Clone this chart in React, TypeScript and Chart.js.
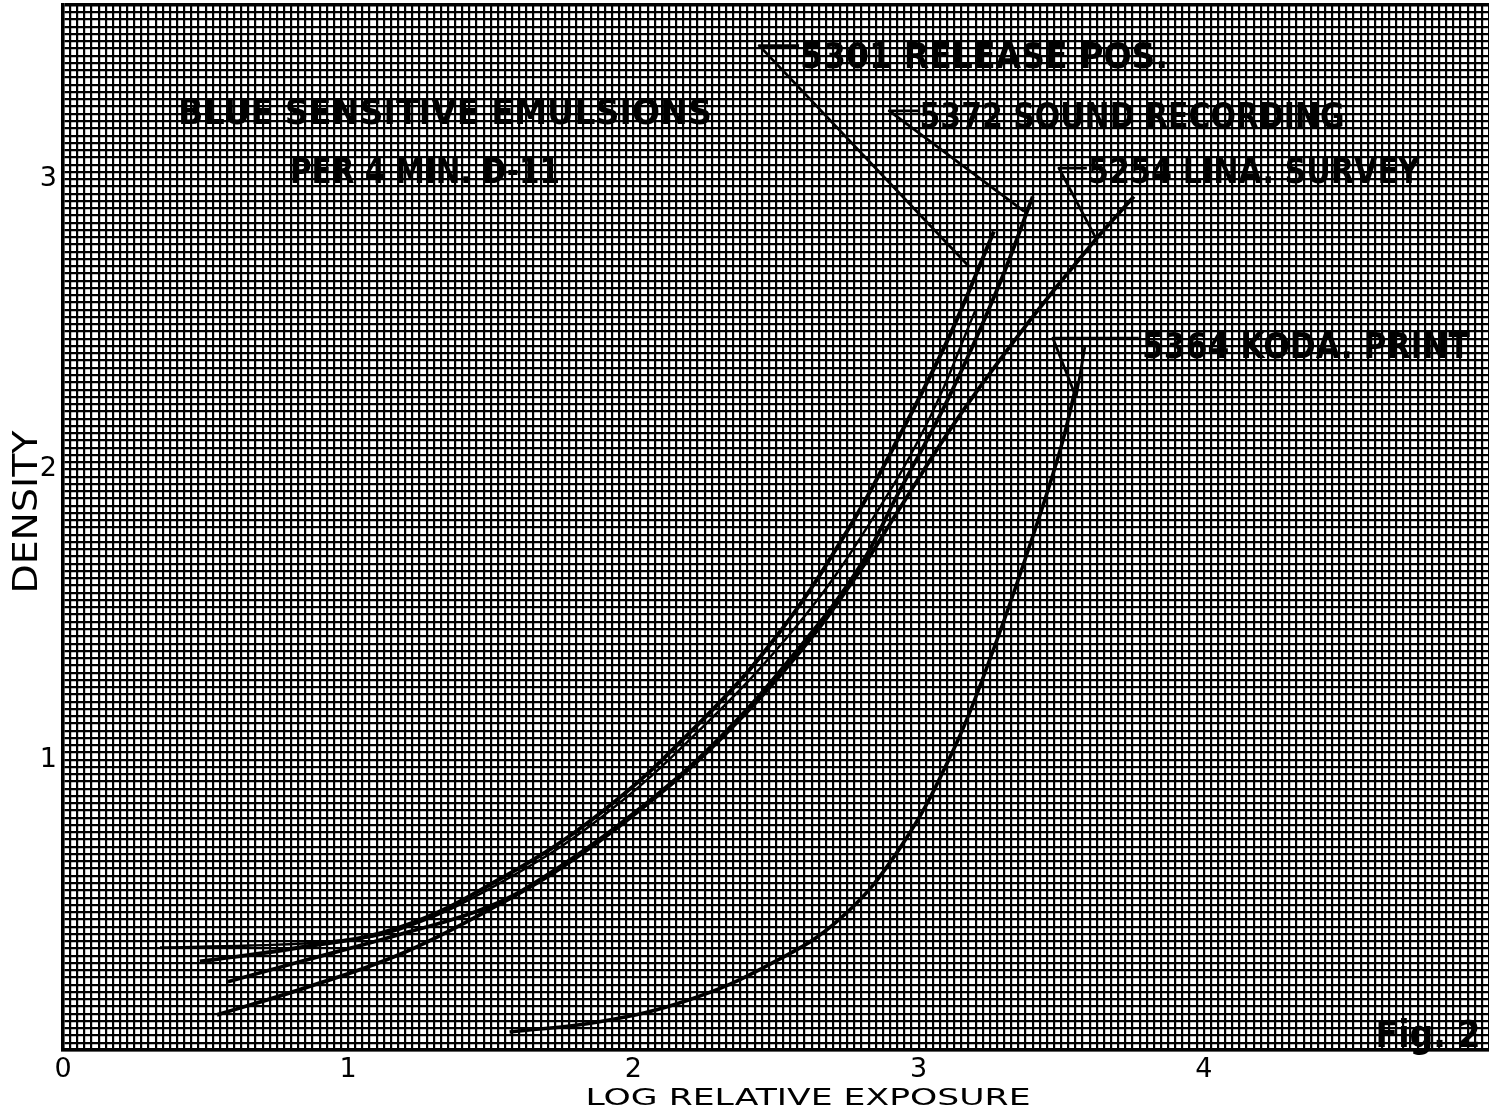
import { useEffect, useRef } from 'react';
import { Chart, registerables } from 'chart.js';
Chart.register(...registerables);

// ---- tick labels ----
const xTickLabels = ['0', '1', '2', '3', '4'];
const yTickLabels = ['1', '2', '3'];

// ---- series (log relative exposure, density) ----
const logE5301 = [0.48, 0.83, 1.18, 1.53, 1.88, 2.23, 2.51, 2.757, 2.93, 3.107, 3.264];
const dens5301 = [0.305, 0.353, 0.422, 0.588, 0.813, 1.125, 1.436, 1.8, 2.11, 2.457, 2.82];

const logEThin = [0.34, 0.655, 0.935, 1.18, 1.53, 1.88, 2.23, 2.58, 2.83, 3.04, 3.2];
const densThin = [0.353, 0.36, 0.374, 0.415, 0.574, 0.796, 1.1, 1.47, 1.817, 2.18, 2.55];

const logE5372 = [0.578, 0.83, 1.18, 1.496, 1.74, 2.02, 2.3, 2.58, 2.79, 2.93, 3.107, 3.28, 3.4];
const dens5372 = [0.235, 0.304, 0.398, 0.495, 0.63, 0.83, 1.073, 1.384, 1.66, 1.92, 2.25, 2.63, 2.94];

const logE5254 = [0.54, 0.83, 1.18, 1.496, 1.74, 2.02, 2.3, 2.58, 2.79, 2.93, 3.14, 3.387, 3.615, 3.755];
const dens5254 = [0.121, 0.208, 0.329, 0.484, 0.623, 0.824, 1.066, 1.367, 1.644, 1.86, 2.18, 2.509, 2.785, 2.94];

const logE5364 = [1.566, 1.881, 2.196, 2.476, 2.722, 2.932, 3.124, 3.264, 3.387, 3.499, 3.555];
const dens5364 = [0.062, 0.097, 0.173, 0.294, 0.45, 0.692, 1.038, 1.384, 1.73, 2.076, 2.301];

// ---- annotation texts ----
const titleLines = ['BLUE SENSITIVE EMULSIONS', 'PER 4 MIN. D-11'];
const curveLabels = ['5301 RELEASE POS.', '5372 SOUND RECORDING', '5254 LINA. SURVEY', '5364 KODA. PRINT'];
const figLabel = 'Fig. 2';
const xTitle = 'LOG RELATIVE EXPOSURE';
const yTitle = 'DENSITY';

const pts = (xs: number[], ys: number[]) => xs.map((x, i) => ({ x, y: ys[i] }));
const isInt = (v: number) => Math.abs(v - Math.round(v)) < 1e-6;

function drawFitted(ctx: CanvasRenderingContext2D, text: string, cx: number, baseY: number, width: number, font: string) {
  ctx.save();
  ctx.font = font;
  const w = ctx.measureText(text).width;
  ctx.translate(cx, baseY);
  ctx.scale(width / w, 1);
  ctx.textAlign = 'center';
  ctx.textBaseline = 'alphabetic';
  ctx.fillStyle = '#000';
  ctx.fillText(text, 0, 0);
  ctx.restore();
}

// leader lines in data units (log E, density)
const leaders: { x: number; y: number }[][] = [
  [{ x: 2.581, y: 3.46 }, { x: 2.441, y: 3.46 }, { x: 3.177, y: 2.699 }],
  [{ x: 3.002, y: 3.235 }, { x: 2.897, y: 3.235 }, { x: 3.37, y: 2.889 }],
  [{ x: 3.59, y: 3.038 }, { x: 3.492, y: 3.038 }, { x: 3.622, y: 2.796 }],
  [{ x: 3.772, y: 2.452 }, { x: 3.471, y: 2.452 }, { x: 3.552, y: 2.249 }],
  [{ x: 3.583, y: 2.422 }, { x: 3.552, y: 2.249 }],
];

const annotationPlugin = {
  id: 'paperAnnotations',
  afterDatasetsDraw(chart: any) {
    const ctx: CanvasRenderingContext2D = chart.ctx;
    const xs = chart.scales.x;
    const ys = chart.scales.y;
    ctx.save();
    ctx.strokeStyle = '#000';
    ctx.lineWidth = 2.8;
    ctx.lineJoin = 'round';
    for (const poly of leaders) {
      ctx.beginPath();
      poly.forEach((p, i) => {
        const px = xs.getPixelForValue(p.x);
        const py = ys.getPixelForValue(p.y);
        if (i === 0) ctx.moveTo(px, py);
        else ctx.lineTo(px, py);
      });
      ctx.stroke();
    }
    const bold = (s: number) => `bold ${s}px "DejaVu Sans"`;
    drawFitted(ctx, titleLines[0], 445, 124, 534, bold(36));
    drawFitted(ctx, titleLines[1], 425, 183, 270, bold(36));
    drawFitted(ctx, curveLabels[0], 984, 68, 368, bold(36));
    drawFitted(ctx, curveLabels[1], 1132, 128, 425, bold(36));
    drawFitted(ctx, curveLabels[2], 1254, 183, 332, bold(36));
    drawFitted(ctx, curveLabels[3], 1306, 358, 328, bold(36));
    drawFitted(ctx, figLabel, 1428, 1047, 105, bold(37));
    drawFitted(ctx, xTitle, 808, 1105, 445, '23px "DejaVu Sans"');
    ctx.save();
    ctx.translate(37, 512);
    ctx.rotate(-Math.PI / 2);
    drawFitted(ctx, yTitle, 0, 0, 163, '34px "DejaVu Sans"');
    ctx.restore();
    ctx.restore();
  },
};

export default function App() {
  const ref = useRef<HTMLCanvasElement | null>(null);
  useEffect(() => {
    if (!ref.current) return;
    const line = (data: any, width: number) => ({
      data,
      showLine: true,
      borderColor: '#000',
      backgroundColor: '#000',
      borderWidth: width,
      pointRadius: 0,
      tension: 0.4,
      fill: false,
    });
    const chart = new Chart(ref.current, {
      type: 'scatter',
      data: {
        datasets: [
          { label: curveLabels[0], ...line(pts(logE5301, dens5301), 4) },
          { label: 'thin', ...line(pts(logEThin, densThin), 2.4) },
          { label: curveLabels[1], ...line(pts(logE5372, dens5372), 3.8) },
          { label: curveLabels[2], ...line(pts(logE5254, dens5254), 3.8) },
          { label: curveLabels[3], ...line(pts(logE5364, dens5364), 3.6) },
        ],
      },
      options: {
        animation: false,
        responsive: false,
        devicePixelRatio: 1,
        layout: { padding: { top: 5, right: 0, left: 0, bottom: 0 } },
        plugins: { legend: { display: false }, tooltip: { enabled: false }, title: { display: false } },
        scales: {
          x: {
            type: 'linear',
            min: 0,
            max: 5,
            afterFit: (s: any) => {
              s.height = 63;
              s.paddingLeft = 0;
              s.paddingRight = 0;
            },
            ticks: {
              stepSize: 0.025,
              autoSkip: false,
              maxRotation: 0,
              minRotation: 0,
              padding: 4,
              color: '#000',
              font: { family: 'DejaVu Sans', size: 27 },
              callback: (v: any) => {
                const n = Number(v);
                if (!isInt(n)) return '';
                const lab = xTickLabels[Math.round(n)];
                return lab === undefined ? '' : lab;
              },
            },
            grid: {
              color: '#000',
              lineWidth: 2.2,
              drawTicks: false,
            },
            border: { display: true, color: '#000', width: 3.5 },
          },
          y: {
            type: 'linear',
            min: 0,
            max: 3.6,
            afterFit: (s: any) => {
              s.width = 63;
              s.paddingTop = 0;
              s.paddingBottom = 0;
            },
            ticks: {
              stepSize: 0.025,
              autoSkip: false,
              padding: 6,
              color: '#000',
              font: { family: 'DejaVu Sans', size: 27 },
              callback: (v: any) => {
                const n = Number(v);
                if (!isInt(n)) return '';
                const idx = Math.round(n) - 1;
                const lab = yTickLabels[idx];
                return lab === undefined ? '' : lab;
              },
            },
            grid: {
              color: '#000',
              lineWidth: (c: any) => (c.tick && Math.abs(c.tick.value - 3.6) < 1e-6 ? 3.5 : 2.2),
              drawTicks: false,
            },
            border: { display: true, color: '#000', width: 3.5 },
          },
        },
      },
      plugins: [annotationPlugin],
    } as any);
    return () => chart.destroy();
  }, []);
  return (
    <div style={{ position: 'absolute', left: 0, top: 0, width: 1489, height: 1113, background: '#fff' }}>
      <canvas ref={ref} width={1489} height={1113} style={{ display: 'block' }} />
    </div>
  );
}
